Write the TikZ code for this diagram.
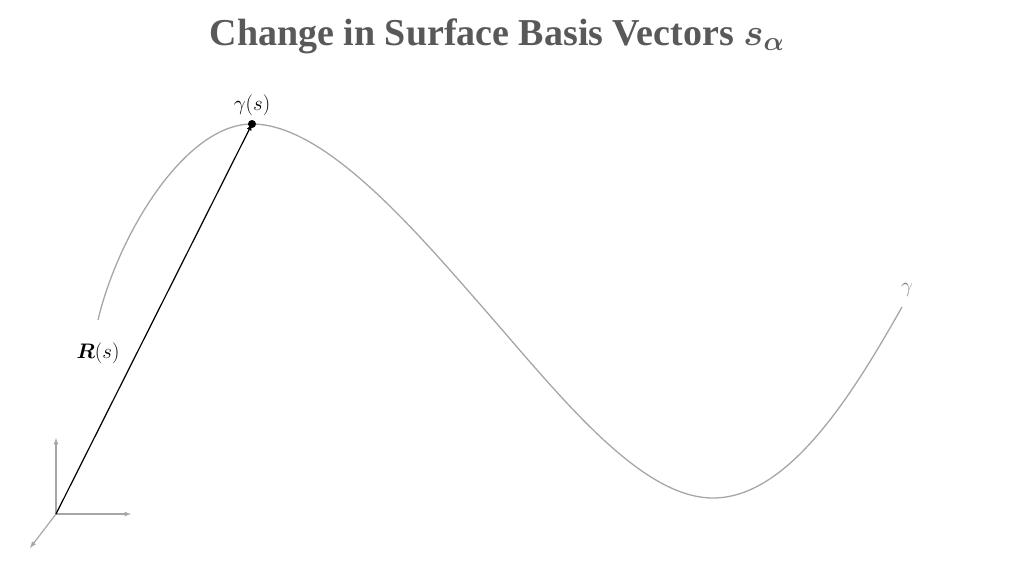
\documentclass[tikz,border=0pt]{standalone}
\usepackage{fix-cm}
\usepackage{amsmath,bm}
\usepackage{fontspec}
\setmainfont{Liberation Serif}
\usetikzlibrary{positioning}

\definecolor{titlegray}{HTML}{595959}
\definecolor{curvegray}{HTML}{A6A6A6}
\definecolor{labelgray}{HTML}{808080}

\begin{document}
\begin{tikzpicture}[x=1pt, y=-1pt,
    axis/.style={draw=curvegray, line width=1.2pt, arrows={-latex}},
    curvestyle/.style={draw=curvegray, line width=1.3pt},
    lbl/.style={font=\fontsize{21}{25}\selectfont}]
    \useasboundingbox (0,0) rectangle (1024,576);
    \coordinate (O) at (56,514);
    \coordinate (Y) at (56,438);
    \coordinate (X) at (131,514);
    \coordinate (Z) at (30,548);
    \coordinate (P) at (252,124);
    \coordinate (G0) at (98,320);
    \coordinate (G1) at (485,310);
    \coordinate (G2) at (713,498);
    \coordinate (G3) at (902,307);
    \node [text=titlegray, font=\bfseries\fontsize{38}{44}\selectfont] (title) at (497,36) {Change in Surface Basis Vectors $\bm{s_\alpha}$};
    % curve gamma
    \draw [curvestyle] (G0) .. controls (118,235) and (185,124) .. (P)
        .. controls (325,124) and (415,230) .. (G1)
        .. controls (560,396) and (640,498) .. (G2)
        .. controls (790,498) and (855,390) .. (G3);
    % axes
    \draw [axis] (O) -- (Y);
    \draw [axis] (O) -- (X);
    \draw [axis] (O) -- (Z);
    \draw [arrows={-latex}, line width=1.2pt] (O) -- (P);
    \fill (P) circle (4pt);
    \node [lbl, above=5pt of P] (gs) {$\gamma(s)$};
    \node [lbl] (Rs) at (98,353) {$\bm{R}(s)$};
    \node [lbl, text=labelgray] (g) at (907,290) {$\gamma$};
\end{tikzpicture}
\end{document}
